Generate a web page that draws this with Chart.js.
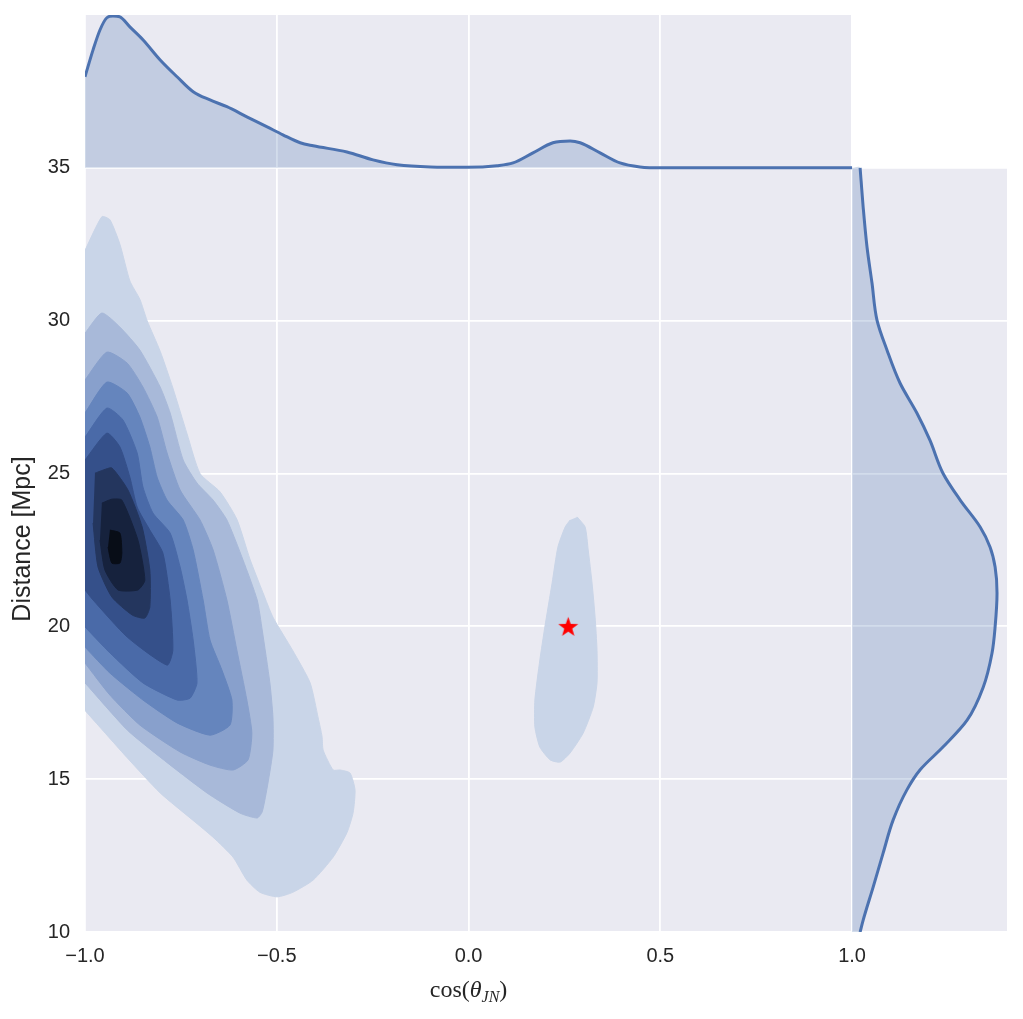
<!DOCTYPE html>
<html>
<head>
<meta charset="utf-8">
<script src="https://cdn.jsdelivr.net/npm/chart.js@4/dist/chart.umd.min.js"></script>
<style>
    html, body { margin: 0; padding: 0; background: #ffffff; }
    #wrap { width: 1023px; height: 1019px; position: relative; }
</style>
</head>
<body>
<div id="wrap"><canvas id="jointChart"></canvas></div>
<script>
// -------------------- DATA --------------------
const xTicks = [-1.0, -0.5, 0.0, 0.5, 1.0];
const yTicks = [10, 15, 20, 25, 30, 35];

// marginal KDE of cos(theta_JN), sits on top of the y = 35 line
const topX = [-1.0, -0.979, -0.961, -0.943, -0.927, -0.909, -0.883, -0.849, -0.804, -0.760,
    -0.718, -0.674, -0.630, -0.578, -0.525, -0.484, -0.439, -0.405, -0.317, -0.249,
    -0.186, -0.100, -0.004, 0.074, 0.116, 0.168, 0.220, 0.265, 0.291, 0.343,
    0.395, 0.447, 0.507, 0.75, 1.0];
const topY = [37.98, 38.86, 39.51, 39.91, 39.97, 39.94, 39.61, 39.19, 38.53, 37.98,
    37.49, 37.22, 37.00, 36.67, 36.34, 36.08, 35.82, 35.72, 35.52, 35.26,
    35.10, 35.03, 35.02, 35.07, 35.16, 35.49, 35.82, 35.88, 35.82, 35.49,
    35.16, 35.03, 35.0, 35.0, 35.0];

// marginal KDE of distance, sits right of the x = 1 line
const rightY = [35.0, 33.71, 32.41, 31.23, 30.02, 29.04, 27.96, 26.98, 26.09, 25.01,
    24.13, 23.25, 22.59, 21.94, 21.09, 19.98, 19.13, 18.01, 16.93, 16.05,
    15.30, 14.65, 13.66, 12.58, 11.47, 10.39, 10.0];
const rightX = [1.021, 1.029, 1.039, 1.052, 1.065, 1.091, 1.125, 1.169, 1.203, 1.237,
    1.282, 1.334, 1.360, 1.373, 1.378, 1.373, 1.365, 1.342, 1.300, 1.237,
    1.177, 1.143, 1.107, 1.081, 1.055, 1.029, 1.021];

// filled KDE contours, lightest (outer) level first
const level1 = [[-1.0,32.3],[-0.956,33.4],[-0.935,33.3],[-0.909,32.5],[-0.883,31.3],[-0.857,30.7],
    [-0.838,30.0],[-0.804,29.0],[-0.771,27.8],[-0.734,26.3],[-0.70,25.0],[-0.648,24.4],[-0.604,23.5],
    [-0.57,22.2],[-0.536,21.1],[-0.51,20.3],[-0.458,19.2],[-0.413,18.15],[-0.392,17.0],[-0.382,16.4],
    [-0.379,15.95],[-0.353,15.3],[-0.335,15.3],[-0.309,15.2],[-0.296,14.65],[-0.301,13.9],[-0.317,13.25],
    [-0.353,12.45],[-0.405,11.7],[-0.458,11.3],[-0.499,11.15],[-0.544,11.3],[-0.578,11.7],[-0.614,12.45],
    [-0.666,13.1],[-0.718,13.65],[-0.804,14.55],[-0.89,15.7],[-0.961,16.7],[-1.0,17.25]];
const level1b = [[0.283,23.58],[0.304,23.25],[0.312,22.50],[0.322,21.42],[0.330,20.30],[0.335,19.22],
    [0.335,18.15],[0.325,17.36],[0.299,16.51],[0.265,15.86],[0.239,15.56],[0.213,15.63],[0.186,16.05],
    [0.173,16.71],[0.173,17.59],[0.186,18.90],[0.199,19.98],[0.218,21.42],[0.233,22.59],[0.252,23.25],
    [0.265,23.48]];
const level2 = [[-1.0,29.59],[-0.956,30.25],[-0.909,29.79],[-0.857,29.04],[-0.804,27.83],[-0.778,26.98],
    [-0.744,25.44],[-0.708,24.69],[-0.666,24.13],[-0.630,23.48],[-0.588,22.17],[-0.551,20.86],[-0.538,19.88],
    [-0.518,18.15],[-0.510,17.03],[-0.510,15.95],[-0.523,14.87],[-0.538,13.93],[-0.551,13.73],[-0.596,13.89],
    [-0.682,14.55],[-0.804,15.72],[-0.890,16.61],[-1.0,18.15]];
const level3 = [[-1.0,28.06],[-0.943,28.97],[-0.890,28.61],[-0.849,27.83],[-0.812,26.85],[-0.786,25.67],
    [-0.752,24.46],[-0.700,23.48],[-0.666,22.50],[-0.630,20.86],[-0.604,19.22],[-0.578,17.59],[-0.565,16.51],
    [-0.575,15.63],[-0.614,15.30],[-0.674,15.46],[-0.752,15.89],[-0.857,16.77],[-0.935,17.75],[-1.0,18.80]];
const level4 = [[-1.0,26.98],[-0.943,27.99],[-0.890,27.63],[-0.857,26.85],[-0.831,25.87],[-0.812,24.88],
    [-0.786,24.13],[-0.744,23.48],[-0.718,22.50],[-0.692,20.86],[-0.674,19.55],[-0.643,18.57],[-0.617,17.59],
    [-0.622,16.77],[-0.674,16.44],[-0.760,16.84],[-0.849,17.59],[-0.935,18.47],[-1.0,19.32]];
const level5 = [[-1.0,26.19],[-0.943,27.14],[-0.901,26.75],[-0.864,25.67],[-0.849,24.56],[-0.823,23.71],
    [-0.778,23.05],[-0.752,21.94],[-0.734,20.86],[-0.718,19.55],[-0.708,18.15],[-0.726,17.65],[-0.760,17.59],
    [-0.849,18.15],[-0.935,19.13],[-1.0,19.98]];
const level6 = [[-1.0,25.44],[-0.943,26.32],[-0.909,25.87],[-0.883,24.88],[-0.864,23.90],[-0.831,23.15],
    [-0.797,22.40],[-0.778,20.86],[-0.771,19.22],[-0.786,18.73],[-0.890,19.65],[-0.979,20.86],[-1.0,21.19]];
const level7 = [[-0.974,25.01],[-0.953,25.11],[-0.930,25.18],[-0.888,24.46],[-0.851,23.25],[-0.831,21.84],
    [-0.831,20.63],[-0.844,20.27],[-0.877,20.37],[-0.930,20.96],[-0.966,21.94],[-0.979,23.38]];
const level8 = [[-0.956,24.03],[-0.930,24.16],[-0.904,24.13],[-0.862,22.82],[-0.844,21.51],[-0.862,21.19],
    [-0.914,21.19],[-0.948,21.84],[-0.961,22.82]];
const level9 = [[-0.935,23.15],[-0.909,23.05],[-0.904,22.40],[-0.909,22.07],[-0.930,22.07],[-0.940,22.59]];

const injection = [0.26, 20.0];

const levelColors = ["#c9d5e8", "#a8b9d9", "#88a0cc", "#6585bd", "#4a6aa8",
    "#35508a", "#24365e", "#16223d", "#080d17"];

// -------------------- HELPERS --------------------
const lineBlue = "#4c72b0";
const shadeBlue = "rgba(76, 114, 176, 0.25)";
const tickFont = { family: "'Liberation Sans', Arial, sans-serif", size: 20 };

function toPoints(pairs) {
    return pairs.map(p => ({ x: p[0], y: p[1] }));
}

function contour(pairs, color) {
    return {
        data: toPoints(pairs),
        fill: "shape",
        backgroundColor: color,
        borderColor: color,
        borderWidth: 1,
        tension: 0.2,
        pointRadius: 0
    };
}

function makeStar(size, color) {
    const c = document.createElement("canvas");
    c.width = size;
    c.height = size;
    const g = c.getContext("2d");
    g.fillStyle = color;
    g.beginPath();
    for (let i = 0; i < 10; i++) {
        const r = i % 2 === 0 ? size / 2 : size / 2 * 0.4;
        const a = -Math.PI / 2 + i * Math.PI / 5;
        g.lineTo(size / 2 + r * Math.cos(a), size / 2 + 1 + r * Math.sin(a));
    }
    g.closePath();
    g.fill();
    return c;
}

function fmtTick(v) {
    return (v < 0 ? "\u2212" : "") + Math.abs(v).toFixed(1);
}

// -------------------- PLUGINS --------------------
// background only where the three panels are (no top-right corner)
const panelBackground = {
    id: "panelBackground",
    beforeDraw(chart) {
        const { ctx, chartArea, scales } = chart;
        const x1 = scales.x.getPixelForValue(1);
        const y35 = scales.y.getPixelForValue(35);
        ctx.save();
        ctx.fillStyle = "#eaeaf2";
        ctx.fillRect(chartArea.left, chartArea.top, x1 - chartArea.left, chartArea.bottom - chartArea.top);
        ctx.fillRect(x1, y35, chartArea.right - x1, chartArea.bottom - y35);
        ctx.restore();
    }
};

const axisTitles = {
    id: "axisTitles",
    afterDraw(chart) {
        const { ctx, scales } = chart;
        ctx.save();
        ctx.fillStyle = "#262626";

        // y title
        ctx.font = "25px 'Liberation Sans', Arial, sans-serif";
        ctx.translate(23, 539);
        ctx.rotate(-Math.PI / 2);
        ctx.textAlign = "center";
        ctx.textBaseline = "middle";
        ctx.fillText("Distance [Mpc]", 0, 0);
        ctx.setTransform(1, 0, 0, 1, 0, 0);

        // x title: cos(θ_JN)
        const serif = "'Liberation Serif', 'Times New Roman', serif";
        const parts = [
            { t: "cos(", f: "24px " + serif, dy: 0 },
            { t: "\u03b8", f: "italic 24px " + serif, dy: 0 },
            { t: "JN", f: "italic 16px " + serif, dy: 5 },
            { t: ")", f: "24px " + serif, dy: 0 }
        ];
        let total = 0;
        parts.forEach(p => { ctx.font = p.f; p.w = ctx.measureText(p.t).width; total += p.w; });
        const cx = (scales.x.getPixelForValue(-1) + scales.x.getPixelForValue(1)) / 2;
        let xPos = cx - total / 2;
        ctx.textAlign = "left";
        ctx.textBaseline = "alphabetic";
        parts.forEach(p => {
            ctx.font = p.f;
            ctx.fillText(p.t, xPos, 997 + p.dy);
            xPos += p.w;
        });
        ctx.restore();
    }
};

// -------------------- BUILD CHART --------------------
const topCurve = topX.map((x, i) => ({ x: x, y: topY[i] }));
const rightCurve = rightX.map((x, i) => ({ x: x, y: rightY[i] }));
const rightShape = [{ x: 1, y: 35 }].concat(rightCurve, [{ x: 1, y: 10 }]);

// first dataset is drawn on top
const datasets = [
    {
        data: [{ x: injection[0], y: injection[1] }],
        showLine: false,
        pointStyle: makeStar(21, "#ff0000"),
        pointRadius: 10,
        pointHoverRadius: 10
    },
    contour(level9, levelColors[8]),
    contour(level8, levelColors[7]),
    contour(level7, levelColors[6]),
    contour(level6, levelColors[5]),
    contour(level5, levelColors[4]),
    contour(level4, levelColors[3]),
    contour(level3, levelColors[2]),
    contour(level2, levelColors[1]),
    contour(level1, levelColors[0]),
    contour(level1b, levelColors[0]),
    {
        data: topCurve,
        fill: { value: 35 },
        backgroundColor: shadeBlue,
        borderColor: lineBlue,
        borderWidth: 3,
        cubicInterpolationMode: "monotone",
        pointRadius: 0
    },
    {
        data: rightCurve,
        indexAxis: "y",
        fill: false,
        borderColor: lineBlue,
        borderWidth: 3,
        cubicInterpolationMode: "monotone",
        pointRadius: 0
    },
    {
        data: rightShape,
        fill: "shape",
        backgroundColor: shadeBlue,
        borderColor: "rgba(0,0,0,0)",
        borderWidth: 1,
        tension: 0.4,
        pointRadius: 0
    }
];

new Chart(document.getElementById("jointChart"), {
    type: "line",
    data: { datasets: datasets },
    plugins: [panelBackground, axisTitles],
    options: {
        responsive: true,
        maintainAspectRatio: false,
        animation: false,
        events: [],
        layout: { padding: { top: 15, right: 16, left: 0, bottom: 0 } },
        plugins: {
            legend: { display: false },
            tooltip: { enabled: false }
        },
        scales: {
            x: {
                type: "linear",
                min: -1,
                max: 1.404,
                afterBuildTicks: s => { s.ticks = xTicks.map(v => ({ value: v })); },
                afterFit: s => {
                    s.height = 87;
                    s.paddingLeft = 0;
                    s.paddingRight = 0;
                },
                grid: { color: "#ffffff", lineWidth: 1.8, drawTicks: false },
                border: { display: false },
                ticks: {
                    color: "#262626",
                    font: tickFont,
                    padding: 12,
                    maxRotation: 0,
                    autoSkip: false,
                    callback: v => fmtTick(v)
                }
            },
            y: {
                type: "linear",
                min: 10,
                max: 40,
                afterBuildTicks: s => { s.ticks = yTicks.map(v => ({ value: v })); },
                afterFit: s => {
                    s.width = 85;
                    s.paddingTop = 0;
                    s.paddingBottom = 0;
                },
                grid: { color: "#ffffff", lineWidth: 1.8, drawTicks: false },
                border: { display: false },
                ticks: {
                    color: "#262626",
                    font: tickFont,
                    padding: 15,
                    autoSkip: false,
                    callback: v => String(v)
                }
            }
        }
    }
});
</script>
</body>
</html>
